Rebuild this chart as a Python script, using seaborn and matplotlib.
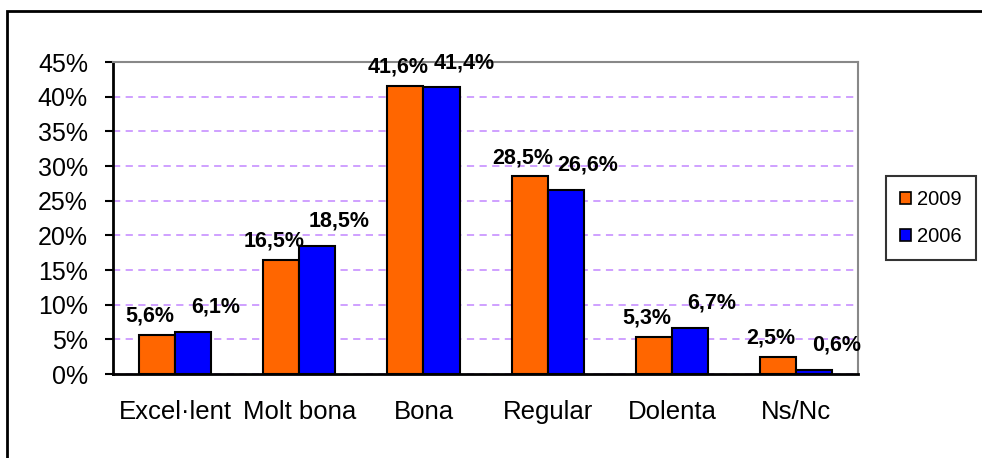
import matplotlib
matplotlib.use('Agg')
import seaborn as sns
import matplotlib.pyplot as plt
import matplotlib.patches as mpatches
import pandas as pd

sns.set_style("white")
plt.rcParams['font.family'] = ['Liberation Sans', 'DejaVu Sans']
plt.rcParams['text.color'] = 'black'
plt.rcParams['xtick.color'] = 'black'
plt.rcParams['ytick.color'] = 'black'

# data
categories = ["Excel·lent", "Molt bona", "Bona", "Regular", "Dolenta", "Ns/Nc"]
years = ["2009", "2006"]
vals_2009 = [5.6, 16.5, 41.6, 28.5, 5.3, 2.5]
vals_2006 = [6.1, 18.5, 41.4, 26.6, 6.7, 0.6]
yticks = [0, 5, 10, 15, 20, 25, 30, 35, 40, 45]

data = pd.DataFrame({
    "Cat": categories * 2,
    "Year": [years[0]] * len(categories) + [years[1]] * len(categories),
    "Value": vals_2009 + vals_2006,
})
colors = {"2009": "#FF6600", "2006": "#0000FF"}

fig = plt.figure(figsize=(9.82, 4.58), dpi=100)
ax = fig.add_axes([0.115, 0.1834, 0.759, 0.6812])

sns.barplot(data=data, x="Cat", y="Value", hue="Year", hue_order=years,
            palette=colors, width=0.58, edgecolor="black", linewidth=1.5,
            saturation=1, ax=ax, legend=False)

ax.set_ylim(0, 45)
ax.set_xlim(-0.5, len(categories) - 0.5)
ax.set_yticks(yticks)
ax.set_yticklabels([f"{t}%" for t in yticks], fontsize=18)
ax.set_xticks(range(len(categories)))
ax.set_xticklabels(categories, fontsize=18.5)
ax.set_xticks([i - 0.5 for i in range(len(categories) + 1)], minor=True)
ax.tick_params(axis="x", which="major", length=0, pad=19)
ax.tick_params(axis="x", which="minor", length=6, width=1.5, direction="out", color="black")
ax.tick_params(axis="y", length=6, width=1.5, direction="out", color="black", pad=12, left=True)
ax.set_xlabel("")
ax.set_ylabel("")

ax.yaxis.grid(True, color="#CC99FF", linestyle=(0, (4, 3)), linewidth=1.3)
ax.set_axisbelow(True)
for side in ["left", "bottom"]:
    ax.spines[side].set_color("black")
    ax.spines[side].set_linewidth(2)
for side in ["top", "right"]:
    ax.spines[side].set_color("#888888")
    ax.spines[side].set_linewidth(1.5)
    ax.spines[side].set_visible(True)

# value labels
for cont, dx, dy in zip(ax.containers, [-5, 16], [6, 10]):
    for bar in cont:
        h = bar.get_height()
        ax.annotate(f"{h:.1f}%".replace(".", ","),
                    (bar.get_x() + bar.get_width() / 2, h),
                    xytext=(dx, dy), textcoords="offset points",
                    ha="center", va="bottom", fontsize=15.5, fontweight="bold",
                    annotation_clip=False)

handles = [mpatches.Patch(facecolor=colors[y], edgecolor="black", linewidth=1.2, label=y)
           for y in years]
leg = fig.legend(handles=handles, loc="center", bbox_to_anchor=(0.948, 0.524),
                 fontsize=14.5, frameon=True, fancybox=False, edgecolor="black",
                 handlelength=0.55, handleheight=0.55, handletextpad=0.3,
                 labelspacing=0.9, borderpad=0.7)
leg.get_frame().set_linewidth(1.5)

# outer chart frame (cut off at right and bottom)
fig.patches.append(mpatches.Rectangle((0.007, -0.1), 1.1, 1.076,
                                      transform=fig.transFigure, fill=False,
                                      edgecolor="black", linewidth=2))

plt.savefig("out.png", dpi=100)
